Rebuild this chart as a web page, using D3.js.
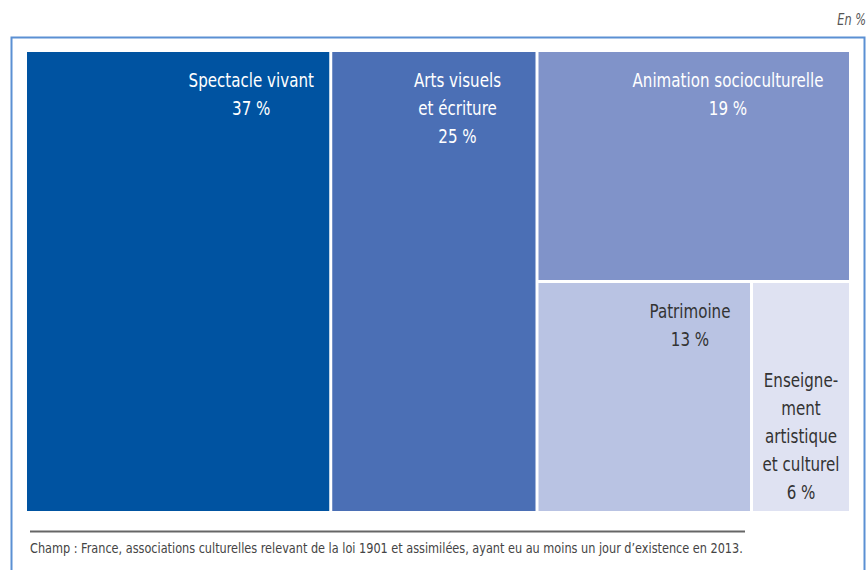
<!DOCTYPE html>
<html>
<head>
<meta charset="utf-8">
<script src="https://cdn.jsdelivr.net/npm/d3@7"></script>
<style>
  body { margin: 0; background: #fff; }
  svg { display: block; }
  text { font-family: "DejaVu Sans Condensed", "Liberation Sans", sans-serif; }
</style>
</head>
<body>
<div id="chart"></div>
<script>
// Data: share of cultural associations by main domain (%)
const domains = ['Spectacle vivant', 'Arts visuels et écriture', 'Animation socioculturelle', 'Patrimoine', 'Enseignement artistique et culturel'];
const shares = [37, 25, 19, 13, 6];
const labelLines = [
  ['Spectacle vivant'],
  ['Arts visuels', 'et écriture'],
  ['Animation socioculturelle'],
  ['Patrimoine'],
  ['Enseigne-', 'ment', 'artistique', 'et culturel']
];
const colors = ['#0053a1', '#4b6fb5', '#8093c9', '#b9c3e3', '#dfe2f2'];
const textColors = ['#fff', '#fff', '#fff', '#333', '#333'];

const width = 868, height = 570;
const area = { x0: 27, y0: 52, x1: 849, y1: 511 };
const squeeze = 0.84; // narrow the glyphs to mimic the condensed face

const svg = d3.select('#chart').append('svg')
  .attr('width', width)
  .attr('height', height);

// outer frame (bottom is cut off in the original)
svg.append('rect')
  .attr('x', 11.5).attr('y', 37.5)
  .attr('width', 853).attr('height', 560)
  .attr('fill', 'none')
  .attr('stroke', '#5b90d3')
  .attr('stroke-width', 2);

svg.append('text')
  .attr('transform', `translate(866,25) scale(${squeeze},1)`)
  .attr('text-anchor', 'end')
  .attr('font-style', 'italic')
  .attr('font-size', 15)
  .attr('fill', '#555')
  .text('En %');

// nested structure: first two side by side, then the rest stacked
const leaves = domains.map((d, i) => ({ name: d, value: shares[i], idx: i }));
const tree = {
  children: [
    leaves[0], leaves[1],
    { children: [leaves[2], { children: [leaves[3], leaves[4]] }] }
  ]
};

const root = d3.hierarchy(tree).sum(d => d.value || 0);
d3.treemap()
  .tile(d3.treemapSliceDice)
  .size([area.x1 - area.x0, area.y1 - area.y0])
  .paddingInner(3)
  .round(false)(root);

const g = svg.append('g').attr('transform', `translate(${area.x0},${area.y0})`);

const cells = g.selectAll('.cell')
  .data(root.leaves())
  .join('g')
  .attr('class', 'cell');

cells.append('rect')
  .attr('x', d => d.x0)
  .attr('y', d => d.y0)
  .attr('width', d => d.x1 - d.x0)
  .attr('height', d => d.y1 - d.y0)
  .attr('fill', d => colors[d.data.idx]);

// label placement: centre offset from the cell's right edge (null = centred, bottom)
const labelRight = [78, 78, 121, 60, null];
const lineH = 28;

cells.each(function(d) {
  const i = d.data.idx;
  const lines = labelLines[i].concat([shares[i] + ' %']);
  let cx, y;
  if (labelRight[i] === null) {
    cx = (d.x0 + d.x1) / 2;
    y = d.y1 - 12 - (lines.length - 1) * lineH;
  } else {
    cx = d.x1 - labelRight[i];
    y = d.y0 + 35;
  }
  const t = d3.select(this).append('text')
    .attr('transform', `translate(${cx},${y}) scale(${squeeze},1)`)
    .attr('text-anchor', 'middle')
    .attr('font-size', 20)
    .attr('fill', textColors[i]);
  lines.forEach((l, k) => {
    t.append('tspan').attr('x', 0).attr('y', k * lineH).text(l);
  });
});

// source note
svg.append('line')
  .attr('x1', 30).attr('x2', 745)
  .attr('y1', 531.5).attr('y2', 531.5)
  .attr('stroke', '#666')
  .attr('stroke-width', 2);

const note = svg.append('text')
  .attr('font-size', 14.5)
  .attr('fill', '#444')
  .text('Champ : France, associations culturelles relevant de la loi 1901 et assimilées, ayant eu au moins un jour d’existence en 2013.');
const noteScale = 714 / note.node().getComputedTextLength();
note.attr('transform', `translate(30,553) scale(${noteScale},1)`);
</script>
</body>
</html>
